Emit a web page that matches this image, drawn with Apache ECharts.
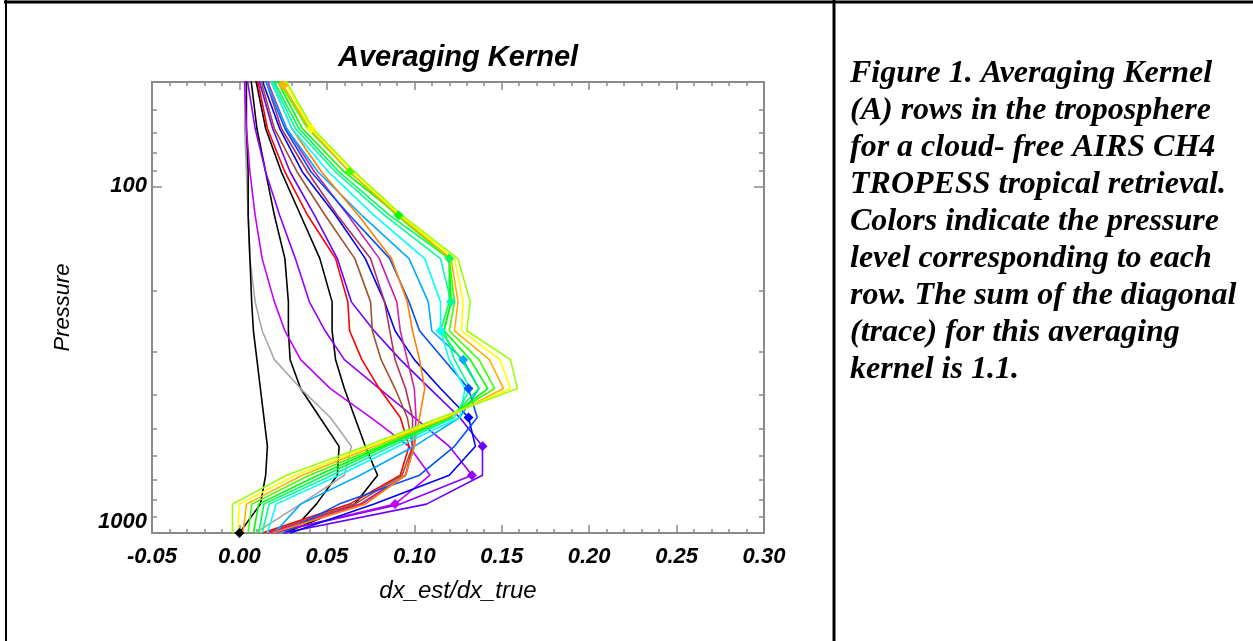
<!DOCTYPE html>
<html>
<head>
<meta charset="utf-8">
<script src="https://cdn.jsdelivr.net/npm/echarts@6/dist/echarts.min.js"></script>
<style>
html,body{margin:0;padding:0;background:#fff;}
#chart{width:1253px;height:641px;}
</style>
</head>
<body>
<div id="chart"></div>
<script>
// ---- data (pressure levels in hPa, kernel row values dx_est/dx_true) ----
const LEVELS = [1000, 825.4, 681.3, 562.3, 464.2, 383.1, 316.2, 261.0, 215.4, 161.6, 121.2, 90.9, 68.1, 51.1, 46.4];

const rowBlack2  = [0.029, 0.044, 0.056, 0.057, 0.046, 0.035, 0.029, 0.028, 0.028, 0.026, 0.020, 0.015, 0.010, 0.007, 0.006];
const rowBlack3  = [0.026, 0.066, 0.079, 0.072, 0.066, 0.060, 0.055, 0.053, 0.053, 0.046, 0.035, 0.024, 0.015, 0.010, 0.008];
const rowGray    = [0.009, 0.035, 0.060, 0.064, 0.052, 0.035, 0.020, 0.013, 0.009, 0.006, 0.005, 0.004, 0.003, 0.003, 0.003];
const row1000    = [0.000, 0.012, 0.015, 0.016, 0.014, 0.012, 0.010, 0.008, 0.007, 0.006, 0.005, 0.005, 0.004, 0.004, 0.004];
const row825     = [0.019, 0.089, 0.109, 0.097, 0.075, 0.052, 0.035, 0.026, 0.020, 0.013, 0.009, 0.006, 0.004, 0.003, 0.003];
const row681     = [0.019, 0.092, 0.133, 0.120, 0.100, 0.080, 0.060, 0.049, 0.040, 0.032, 0.023, 0.015, 0.009, 0.005, 0.004];
const row562     = [0.025, 0.107, 0.139, 0.139, 0.126, 0.109, 0.092, 0.077, 0.064, 0.056, 0.043, 0.029, 0.019, 0.012, 0.010];
const row464     = [0.029, 0.077, 0.120, 0.135, 0.131, 0.115, 0.100, 0.089, 0.083, 0.072, 0.055, 0.036, 0.023, 0.014, 0.012];
const rowRed     = [0.013, 0.063, 0.092, 0.097, 0.092, 0.080, 0.070, 0.063, 0.062, 0.055, 0.039, 0.026, 0.016, 0.011, 0.009];
const rowBrown   = [0.015, 0.066, 0.093, 0.099, 0.096, 0.089, 0.081, 0.076, 0.075, 0.066, 0.049, 0.033, 0.020, 0.013, 0.012];
const rowMaroon  = [0.016, 0.069, 0.095, 0.099, 0.099, 0.095, 0.089, 0.086, 0.083, 0.075, 0.056, 0.039, 0.024, 0.016, 0.013];
const rowPink    = [0.017, 0.070, 0.095, 0.100, 0.101, 0.100, 0.096, 0.092, 0.090, 0.080, 0.062, 0.043, 0.027, 0.017, 0.015];
const row383     = [0.025, 0.057, 0.103, 0.123, 0.136, 0.131, 0.117, 0.103, 0.097, 0.086, 0.063, 0.041, 0.026, 0.016, 0.014];
const row316     = [0.020, 0.035, 0.069, 0.100, 0.126, 0.137, 0.128, 0.110, 0.108, 0.097, 0.070, 0.045, 0.027, 0.016, 0.015];
const rowOrange2 = [0.019, 0.072, 0.095, 0.100, 0.103, 0.106, 0.103, 0.099, 0.096, 0.087, 0.068, 0.047, 0.030, 0.019, 0.016];
const row261     = [0.016, 0.021, 0.057, 0.091, 0.126, 0.129, 0.120, 0.115, 0.115, 0.106, 0.077, 0.051, 0.030, 0.019, 0.016];
const row215     = [0.013, 0.017, 0.053, 0.087, 0.123, 0.132, 0.123, 0.117, 0.121, 0.115, 0.083, 0.055, 0.032, 0.020, 0.017];
const row162     = [0.011, 0.014, 0.049, 0.084, 0.121, 0.137, 0.127, 0.115, 0.120, 0.120, 0.086, 0.057, 0.034, 0.021, 0.019];
const row121     = [0.008, 0.011, 0.045, 0.082, 0.120, 0.142, 0.132, 0.117, 0.121, 0.120, 0.091, 0.060, 0.036, 0.023, 0.020];
const row91      = [0.005, 0.007, 0.040, 0.080, 0.119, 0.146, 0.137, 0.120, 0.123, 0.120, 0.090, 0.063, 0.039, 0.024, 0.021];
const row51      = [0.002, 0.004, 0.036, 0.077, 0.119, 0.151, 0.143, 0.123, 0.125, 0.121, 0.091, 0.063, 0.040, 0.025, 0.022];
const row68      = [-0.001, 0.000, 0.032, 0.075, 0.117, 0.155, 0.149, 0.127, 0.128, 0.123, 0.092, 0.065, 0.041, 0.027, 0.023];
const rowOuter   = [-0.004, -0.004, 0.027, 0.072, 0.115, 0.159, 0.155, 0.130, 0.132, 0.125, 0.093, 0.066, 0.042, 0.028, 0.024];

// index into LEVELS of each row's own (diagonal) level; -1 = no marker
const ROWS = [
  { values: rowBlack2,  diag: -1 },
  { values: rowBlack3,  diag: -1 },
  { values: rowGray,    diag: -1 },
  { values: row1000,    diag: 0 },
  { values: row825,     diag: 1 },
  { values: row681,     diag: 2 },
  { values: row562,     diag: 3 },
  { values: row464,     diag: 4 },
  { values: rowRed,     diag: -1 },
  { values: rowBrown,   diag: -1 },
  { values: rowMaroon,  diag: -1 },
  { values: rowPink,    diag: -1 },
  { values: row383,     diag: 5 },
  { values: row316,     diag: 6 },
  { values: rowOrange2, diag: -1 },
  { values: row261,     diag: 7 },
  { values: row215,     diag: 8 },
  { values: row162,     diag: 9 },
  { values: row121,     diag: 10 },
  { values: row91,      diag: 11 },
  { values: row51,      diag: 13 },
  { values: row68,      diag: 12 },
  { values: rowOuter,   diag: -1 }
];

const X_TICKS = { min: -0.05, max: 0.30, step: 0.05 };
const Y_MAJOR = [100, 1000];
const Y_MINOR = [60, 70, 80, 90, 200, 300, 400, 500, 600, 700, 800, 900];

const TITLE = 'Averaging Kernel';
const X_NAME = 'dx_est/dx_true';
const Y_NAME = 'Pressure';
const CAPTION = [
  'Figure 1. Averaging Kernel',
  '(A) rows in the troposphere',
  'for a cloud- free AIRS CH4',
  'TROPESS tropical retrieval.',
  'Colors indicate the pressure',
  'level corresponding to each',
  'row. The sum of the diagonal',
  '(trace) for this averaging',
  'kernel is 1.1.'
];

// ---- styles ----
const COLORS = [
  '#000000', '#000000', '#a8a8a8', '#000000', '#c000ff', '#9400ff', '#6a00ff', '#0000ff',
  '#ff0000', '#a0522d', '#b03060', '#d020b0', '#0050ff', '#00aaff', '#ff7f00', '#00ffff',
  '#00ff99', '#00ff50', '#00ff00', '#40ff00', '#ffb000', '#ffff00', '#9aff00'
];
const AX = '#8a8a8a';
const SANS = '"Liberation Sans", Arial, sans-serif';

const chart = echarts.init(document.getElementById('chart'), null, { renderer: 'canvas' });

const series = ROWS.map((r, i) => ({
  type: 'line',
  xAxisIndex: 0,
  yAxisIndex: 0,
  silent: true,
  animation: false,
  symbol: 'diamond',
  symbolSize: 10,
  showSymbol: true,
  clip: true,
  lineStyle: { color: COLORS[i], width: 1.6 },
  itemStyle: { color: COLORS[i] },
  emphasis: { disabled: true },
  data: r.values.map((v, k) => (k === r.diag
    ? { value: [v, LEVELS[k]] }
    : { value: [v, LEVELS[k]], symbol: 'none' }))
}));

function xAxisDef(pos, labels) {
  return {
    type: 'value', position: pos,
    min: X_TICKS.min, max: X_TICKS.max, interval: X_TICKS.step,
    axisLine: { show: true, onZero: false, lineStyle: { color: AX, width: 2 } },
    axisTick: { show: true, inside: true, length: 8, lineStyle: { color: AX, width: 1.5 } },
    minorTick: { show: true, splitNumber: 5, length: 4, lineStyle: { color: AX, width: 1.5 } },
    splitLine: { show: false },
    axisLabel: {
      show: labels, margin: 13, color: '#000',
      fontFamily: SANS, fontSize: 22, fontStyle: 'italic', fontWeight: 'bold',
      formatter: v => v.toFixed(2)
    },
    name: labels ? X_NAME : '',
    nameLocation: 'middle', nameGap: 46,
    nameTextStyle: { color: '#000', fontFamily: SANS, fontSize: 24, fontStyle: 'italic' }
  };
}

function yAxisDef(pos, major, labels) {
  return {
    type: 'log', logBase: 10, position: pos, inverse: true,
    min: 50, max: 1000,
    axisLine: { show: major, onZero: false, lineStyle: { color: AX, width: 2 } },
    axisTick: {
      show: true, inside: true, length: major ? 10 : 5,
      customValues: major ? Y_MAJOR : Y_MINOR,
      lineStyle: { color: AX, width: 1.5 }
    },
    minorTick: { show: false },
    splitLine: { show: false },
    axisLabel: {
      show: labels, margin: 5, color: '#000',
      customValues: Y_MAJOR,
      fontFamily: SANS, fontSize: 22, fontStyle: 'italic', fontWeight: 'bold',
      formatter: v => (v >= 1000 ? '{b|' + v + '}' : '{a|' + v + '}'),
      rich: {
        a: { fontFamily: SANS, fontSize: 22, fontStyle: 'italic', fontWeight: 'bold', color: '#000' },
        b: { fontFamily: SANS, fontSize: 22, fontStyle: 'italic', fontWeight: 'bold', color: '#000', padding: [0, 0, 22, 0] }
      }
    },
    name: labels ? Y_NAME : '',
    nameLocation: 'middle', nameGap: 78, nameRotate: 90,
    nameTextStyle: { color: '#000', fontFamily: SANS, fontSize: 22, fontStyle: 'italic' }
  };
}

chart.setOption({
  backgroundColor: '#ffffff',
  animation: false,
  grid: { left: 152, top: 82, width: 612, height: 451, containLabel: false },
  xAxis: [xAxisDef('bottom', true), xAxisDef('top', false)],
  yAxis: [
    yAxisDef('left', true, true),
    yAxisDef('left', false, false),
    yAxisDef('right', true, false),
    yAxisDef('right', false, false)
  ],
  series: series,
  graphic: [
    { type: 'line', silent: true, shape: { x1: 4, y1: 2, x2: 1253, y2: 2 }, style: { stroke: '#000', lineWidth: 3 } },
    { type: 'line', silent: true, shape: { x1: 6, y1: 0, x2: 6, y2: 641 }, style: { stroke: '#000', lineWidth: 2 } },
    { type: 'line', silent: true, shape: { x1: 834, y1: 0, x2: 834, y2: 641 }, style: { stroke: '#000', lineWidth: 3 } },
    {
      type: 'text', silent: true, x: 458, y: 58,
      style: {
        text: TITLE, fill: '#000', textAlign: 'center', textVerticalAlign: 'middle',
        font: 'italic bold 29px ' + SANS
      }
    },
    {
      type: 'text', silent: true, x: 850, y: 55,
      style: {
        text: CAPTION.join('\n'), fill: '#000', textAlign: 'left', textVerticalAlign: 'top',
        font: 'italic bold 32px "Liberation Serif", "Times New Roman", serif', lineHeight: 37
      }
    }
  ]
});
</script>
</body>
</html>
